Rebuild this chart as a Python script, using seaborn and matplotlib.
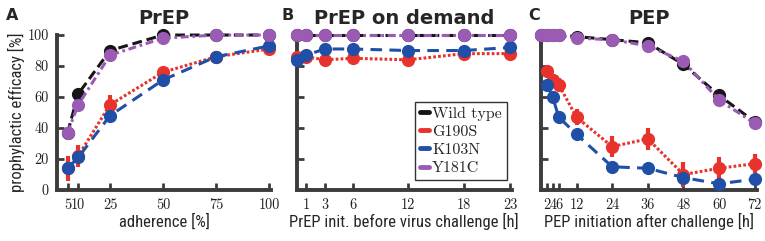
import matplotlib
matplotlib.use('Agg')
import matplotlib.pyplot as plt
from matplotlib import font_manager
from matplotlib.lines import Line2D
import pandas as pd
import seaborn as sns

# ---- data ----
strains = ['Wild type', 'G190S', 'K103N', 'Y181C']

a_x = [5, 10, 25, 50, 75, 100]
a_wt = [37, 62, 90, 100, 100, 100]
a_g190s = [14, 22, 55, 76, 86, 91]
a_k103n = [14, 21, 48, 71, 86, 93]
a_y181c = [37, 55, 87, 98, 100, 100]
a_g190s_err = [8, 7, 6, 3, 2, 2]

b_x = [0, 1, 3, 6, 12, 18, 23]
b_wt = [100, 100, 100, 100, 100, 100, 100]
b_g190s = [86, 86, 84, 85, 84, 88, 88]
b_k103n = [84, 87, 91, 91, 90, 90, 92]
b_y181c = [100, 100, 100, 100, 100, 100, 100]

c_x = [0, 2, 4, 6, 12, 24, 36, 48, 60, 72]
c_wt = [100, 100, 100, 100, 99, 97, 95, 81, 61, 44]
c_y181c = [100, 100, 100, 100, 98, 97, 93, 83, 58, 43]
c_x_mut = [2, 4, 6, 12, 24, 36, 48, 60, 72]
c_g190s = [77, 71, 68, 47, 28, 33, 10, 14, 17]
c_k103n = [68, 60, 47, 36, 15, 14, 8, 4, 7]
c_g190s_err = [3, 4, 4, 5, 7, 7, 8, 7, 6]
c_k103n_err = [2, 2, 2, 3, 3, 3, 3, 3, 3]

a_ticks = [5, 10, 25, 50, 75, 100]
b_ticks = [1, 3, 6, 12, 18, 23]
c_ticks = [2, 4, 6, 12, 24, 36, 48, 60, 72]
y_ticks = [0, 20, 40, 60, 80, 100]

colors = {'Wild type': '#161616', 'G190S': '#e8322c',
          'K103N': '#1f4fa6', 'Y181C': '#9b5bb5'}
styles = {'Wild type': (0, (3.2, 1.6)), 'G190S': (0, (0.9, 0.7)),
          'K103N': (0, (3.8, 2.4)), 'Y181C': (0, (2.6, 1.2, 0.9, 1.2))}

sns.set_style('ticks')
plt.rcParams['axes.formatter.use_mathtext'] = True

installed = {f.name for f in font_manager.fontManager.ttflist}
narrow = [f for f in ['Liberation Sans Narrow', 'Roboto Condensed', 'Open Sans'] if f in installed]
label_font = narrow[:1] + ['DejaVu Sans']
serif_font = ['cmr10', 'DejaVu Serif']
spine_col = '#3c3c3c'
tick_size = 10.3

fig = plt.figure(figsize=(7.65, 2.41), dpi=100)
ax_a = fig.add_axes([0.0745, 0.2116, 0.280, 0.643])
ax_b = fig.add_axes([0.388, 0.2116, 0.281, 0.643])
ax_c = fig.add_axes([0.707, 0.2116, 0.282, 0.643])


def draw(ax, series, errs):
    for name in strains:
        x, y = series[name]
        df = pd.DataFrame({'x': x, 'y': y})
        if name in errs:
            ax.errorbar(x, y, yerr=errs[name], fmt='none', ecolor=colors[name],
                        elinewidth=3, capsize=0, zorder=2, clip_on=False)
        sns.lineplot(data=df, x='x', y='y', ax=ax, color=colors[name],
                     linestyle=styles[name], linewidth=2.2, marker='o',
                     markersize=9.5, markeredgewidth=0, clip_on=False,
                     zorder=3, legend=False)


draw(ax_a, {'Wild type': (a_x, a_wt), 'G190S': (a_x, a_g190s),
            'K103N': (a_x, a_k103n), 'Y181C': (a_x, a_y181c)},
     {'G190S': a_g190s_err})
draw(ax_b, {'Wild type': (b_x, b_wt), 'G190S': (b_x, b_g190s),
            'K103N': (b_x, b_k103n), 'Y181C': (b_x, b_y181c)}, {})
draw(ax_c, {'Wild type': (c_x, c_wt), 'G190S': (c_x_mut, c_g190s),
            'K103N': (c_x_mut, c_k103n), 'Y181C': (c_x, c_y181c)},
     {'G190S': c_g190s_err, 'K103N': c_k103n_err})

for ax, ticks, xlim in [(ax_a, a_ticks, (0, 101)), (ax_b, b_ticks, (0, 23.15)),
                        (ax_c, c_ticks, (0, 72.6))]:
    ax.set_xlim(*xlim)
    ax.set_ylim(0, 100)
    ax.set_xticks(ticks)
    ax.set_yticks(y_ticks)
    ax.set_xticklabels([str(t) for t in ticks], fontfamily=serif_font, fontsize=tick_size)
    sns.despine(ax=ax)
    for s in ['left', 'bottom']:
        ax.spines[s].set_color(spine_col)
        ax.spines[s].set_linewidth(2.8)
    ax.tick_params(direction='in', length=5, width=2, color=spine_col,
                   labelcolor='#222222', pad=6)
    ax.set_xlabel('')
    ax.set_ylabel('')

ax_a.set_yticklabels([str(t) for t in y_ticks], fontfamily=serif_font, fontsize=tick_size)
ax_b.set_yticklabels([])
ax_c.set_yticklabels([])

ax_a.set_ylabel('prophylactic efficacy [%]', fontfamily=label_font, fontsize=12, labelpad=2)
ax_a.set_xlabel('adherence [%]', fontfamily=label_font, fontsize=12, labelpad=1)
ax_b.set_xlabel('PrEP init. before virus challenge [h]', fontfamily=label_font,
                fontsize=12, labelpad=1)
ax_c.set_xlabel('PEP initiation after challenge [h]', fontfamily=label_font,
                fontsize=12, labelpad=1)

for ax, title in [(ax_a, 'PrEP'), (ax_b, 'PrEP on demand'), (ax_c, 'PEP')]:
    ax.set_title(title, fontsize=14, fontweight='bold', fontfamily='DejaVu Sans', pad=8)

for x, letter in [(0.008, 'A'), (0.368, 'B'), (0.690, 'C')]:
    fig.text(x, 0.915, letter, fontsize=11.5, fontweight='bold', fontfamily='DejaVu Sans')

handles = [Line2D([0], [0], color=colors[n], linewidth=3.5) for n in strains]
leg = ax_b.legend(handles, strains, loc='lower right', bbox_to_anchor=(0.977, 0.065),
                  borderaxespad=0, frameon=True, fancybox=False, handlelength=0.6,
                  handletextpad=0.2, labelspacing=0.25, borderpad=0.3,
                  prop={'family': serif_font, 'size': 11.5})
leg.get_frame().set_edgecolor('black')
leg.get_frame().set_linewidth(1.0)

fig.savefig('out.png', dpi=100)
